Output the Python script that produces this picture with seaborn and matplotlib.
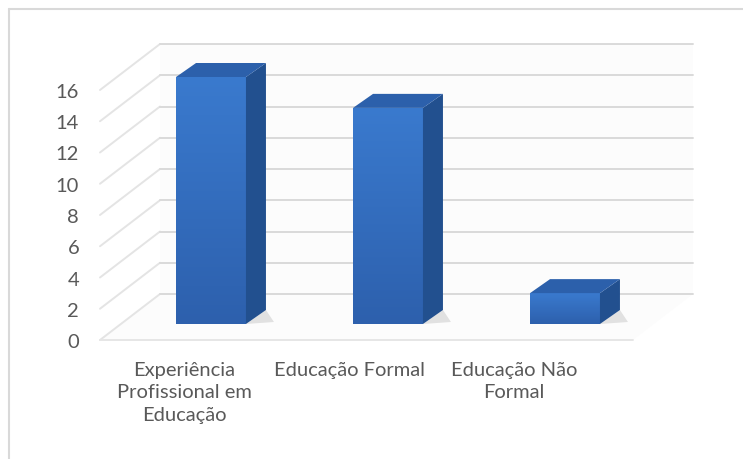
import textwrap
import numpy as np
import matplotlib
matplotlib.use("Agg")
import matplotlib.pyplot as plt
from matplotlib.patches import Polygon
from matplotlib.lines import Line2D
import seaborn as sns

# Chart data
categories = ["Experiência Profissional em Educação", "Educação Formal", "Educação Não Formal"]
values = [16, 14, 2]
y_ticks = [0, 2, 4, 6, 8, 10, 12, 14, 16]

sns.set_theme(style="white")
plt.rcParams["font.family"] = ["Lato", "DejaVu Sans"]

W, H = 743, 460
fig = plt.figure(figsize=(W / 100, H / 100), dpi=100)
fig.patch.set_facecolor("white")


def frac(px_left, px_top, px_w, px_h):
    """Axes rectangle given in pixels measured from the top-left corner."""
    return [px_left / W, (H - px_top - px_h) / H, px_w / W, px_h / H]


# Front plane of the 3D box: holds the value ticks and category labels
ax = fig.add_axes(frac(100, 91, 533, 250))
ax.set_ylim(0, 16)
ax.set_xlim(-0.51, 2.72)
ax.set_facecolor("none")
for s in ax.spines.values():
    s.set_visible(False)
ax.set_yticks(y_ticks)
ax.set_yticklabels([str(t) for t in y_ticks])
ax.set_xticks(range(len(categories)))
ax.set_xticklabels([textwrap.fill(c, 15) for c in categories], linespacing=1.4)
ax.tick_params(axis="y", length=0, pad=15, labelsize=14.5, labelcolor="#595959")
ax.tick_params(axis="x", length=0, pad=15, labelsize=14.5, labelcolor="#595959")
ax.grid(False)

# Depth of the box (pixels right / up from front plane to back wall)
DX, DY = 60, 46
to_fig = fig.transFigure.inverted()


def pt(x, y, depth=0.0):
    px, py = ax.transData.transform((x, y))
    return to_fig.transform((px + DX * depth, py + DY * depth))


x0, x1 = ax.get_xlim()
grid_col = "#dadada"

# back wall and floor panels
back = [pt(x0, 0, 1), pt(x1, 0, 1), pt(x1, 16, 1), pt(x0, 16, 1)]
fig.add_artist(Polygon(back, closed=True, facecolor="#fcfcfc", edgecolor="none",
                       transform=fig.transFigure, zorder=0.1))
floor = [pt(x0, 0), pt(x1, 0), pt(x1, 0, 1), pt(x0, 0, 1)]
fig.add_artist(Polygon(floor, closed=True, facecolor="#fcfcfc", edgecolor="none",
                       transform=fig.transFigure, zorder=0.1))

# gridlines: diagonals on the side wall, horizontals on the back wall
for t in y_ticks:
    a, b, c = pt(x0, t), pt(x0, t, 1), pt(x1, t, 1)
    fig.add_artist(Line2D([a[0], b[0]], [a[1], b[1]], color="#e4e4e4",
                          lw=1.4, transform=fig.transFigure, zorder=0.2))
    fig.add_artist(Line2D([b[0], c[0]], [b[1], c[1]], color=grid_col,
                          lw=1.4, transform=fig.transFigure, zorder=0.2))
# floor front edge
a, b = pt(x0, 0), pt(x1, 0)
fig.add_artist(Line2D([a[0], b[0]], [a[1], b[1]], color="#e6e6e6", lw=1.4,
                      transform=fig.transFigure, zorder=0.2))

# Bars sit mid-depth in the box, on their own axes
bx = fig.add_axes(frac(122.5, 78, 531, 247))
bx.set_zorder(2)
sns.barplot(x=categories, y=values, ax=bx, width=0.395, color="#3470c0",
            saturation=1, edgecolor="none")
bx.set_ylim(0, 16)
bx.set_xlim(-0.5, 2.5)
bx.axis("off")
bx.patch.set_alpha(0)

grad = np.linspace(1, 0, 256).reshape(-1, 1)
front_cmap = matplotlib.colors.LinearSegmentedColormap.from_list(
    "front", ["#2d60ad", "#3a7ace"])
bdx, bdy = 20, 14
for p in bx.patches:
    bb = p.get_bbox()
    # front-face shading
    im = bx.imshow(grad, cmap=front_cmap, aspect="auto", origin="upper",
                   extent=(bb.x0, bb.x1, bb.y0, bb.y1), zorder=p.get_zorder() + 0.1)
    im.set_clip_path(p)
    (fx0, fy0), (fx1, fy1) = bx.transData.transform([(bb.x0, bb.y0), (bb.x1, bb.y1)])
    side = [(fx1, fy0), (fx1 + bdx, fy0 + bdy), (fx1 + bdx, fy1 + bdy), (fx1, fy1)]
    top = [(fx0, fy1), (fx1, fy1), (fx1 + bdx, fy1 + bdy), (fx0 + bdx, fy1 + bdy)]
    shadow = [(fx1, fy0), (fx1 + bdx + 8, fy0 + 2), (fx1 + bdx, fy0 + bdy), (fx1, fy0)]
    bx.add_patch(Polygon(to_fig.transform(shadow), closed=True, facecolor="#cfcfcf",
                         edgecolor="none", alpha=0.6, transform=fig.transFigure,
                         clip_on=False, zorder=1))
    bx.add_patch(Polygon(to_fig.transform(side), closed=True, facecolor="#22508f",
                         edgecolor="none", transform=fig.transFigure, clip_on=False, zorder=3))
    bx.add_patch(Polygon(to_fig.transform(top), closed=True, facecolor="#2c60ab",
                         edgecolor="none", transform=fig.transFigure, clip_on=False, zorder=3))

# chart frame
fig.add_artist(Line2D([9 / W, 1], [1 - 10 / H, 1 - 10 / H], color="#d9d9d9", lw=1.5,
                      transform=fig.transFigure))
fig.add_artist(Line2D([9 / W, 9 / W], [0, 1 - 10 / H], color="#d9d9d9", lw=1.5,
                      transform=fig.transFigure))

fig.savefig("out.png", dpi=100)
